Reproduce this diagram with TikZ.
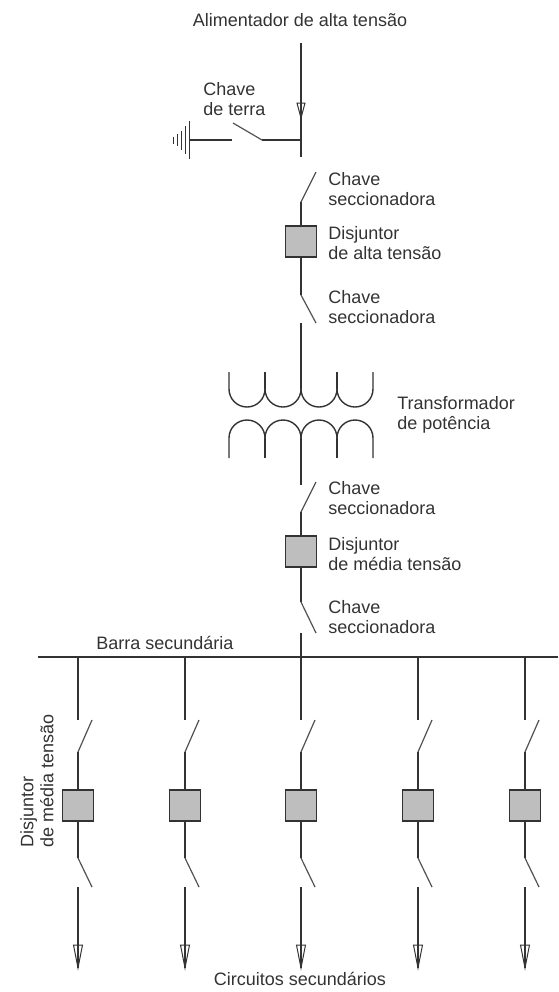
\documentclass[tikz,border=0pt]{standalone}
\usepackage{fontspec}
\setmainfont{Liberation Sans}
\usetikzlibrary{positioning}

\definecolor{ink}{HTML}{333333}
\definecolor{boxgray}{HTML}{BEBEBE}

\tikzset{
  wire/.style={draw=ink,line width=0.7pt},
  bladeline/.style={draw=ink!85,line width=0.6pt},
  breaker/.style={draw=ink,fill=boxgray,line width=0.7pt,minimum size=15.5pt,inner sep=0pt},
  lbl/.style={text=ink,font=\fontsize{9}{10}\selectfont,align=left,inner sep=0pt},
  tipline/.style={draw=ink,line width=0.5pt}
}

\begin{document}
\begin{tikzpicture}[x=0.5pt,y=-0.5pt]
    \useasboundingbox (0,0) rectangle (558,992);
    \begin{scope}[lbl]

    \node (feedlbl) at (300,20) {Alimentador de alta tens\~ao};
    \node [anchor=north west] (earthlbl) at (203,82) {Chave\\de terra};
    \node [anchor=north west] (sw1lbl) at (328,172) {Chave\\seccionadora};
    \node [anchor=north west] (brkATlbl) at (328,226) {Disjuntor\\de alta tens\~ao};
    \node [anchor=north west] (sw2lbl) at (328,290) {Chave\\seccionadora};
    \node [anchor=north west] (trlbl) at (397,396) {Transformador\\de pot\^encia};
    \node [anchor=north west] (sw3lbl) at (328,481) {Chave\\seccionadora};
    \node [anchor=north west] (brkMTlbl) at (328,537) {Disjuntor\\de m\'edia tens\~ao};
    \node [anchor=north west] (sw4lbl) at (328,600) {Chave\\seccionadora};
    \node [anchor=base] (buslbl) at (165,649) {Barra secund\'aria};
    \node [anchor=base] (outlbl) at (300,985) {Circuitos secund\'arios};
    \node [anchor=north west,rotate=90] (feedbrklbl) at (20,848) {Disjuntor\\de m\'edia tens\~ao};

    \end{scope}

    % alimentador e chave de terra
    \coordinate (feed) at (301,43);
    \coordinate (tap) at (301,140);
    \coordinate (mtop) at (301,157);
    \draw [wire] (feed) -- (mtop);
    \draw [tipline] (297,103) -- (305,103) -- (301,118) -- cycle;
    \coordinate (ehinge) at (262,140);
    \coordinate (eblade) at (233,123);
    \coordinate (econtact) at (232,140);
    \coordinate (gnd) at (189,140);
    \draw [wire] (tap) -- (ehinge);
    \draw [bladeline] (ehinge) -- (eblade);
    \draw [wire] (econtact) -- (gnd);
    \foreach \i/\h in {0/19,1/14,2/9.5,3/6,4/3.5}
        \draw [wire,line width=0.5pt] (189-4*\i,140-\h) -- (189-4*\i,140+\h);

    % lado de alta tensao
    \node [breaker] (brkAT) at (301,241.5) {};
    \coordinate (sw1a) at (301,202);
    \coordinate (sw1b) at (316,172);
    \coordinate (sw2a) at (301,295);
    \coordinate (sw2b) at (316,323);
    \coordinate (sw2c) at (301,323);
    \draw [bladeline] (sw1a) -- (sw1b);
    \draw [wire] (sw1a) -- (brkAT.north);
    \draw [wire] (brkAT.south) -- (sw2a);
    \draw [bladeline] (sw2a) -- (sw2b);
    \draw [wire] (sw2c) -- (301,389);

    % transformador
    \draw [wire] (229,372) -- (229,389) arc (180:0:18) arc (180:0:18) arc (180:0:18) arc (180:0:18) -- (373,372);
    \draw [wire] (229,458) -- (229,438) arc (180:360:18) arc (180:360:18) arc (180:360:18) arc (180:360:18) -- (373,458);
    \foreach \x in {265,337} {
        \draw [wire] (\x,372) -- (\x,389);
        \draw [wire] (\x,438) -- (\x,458);
    }

    % lado de media tensao
    \node [breaker] (brkMT) at (301,551.5) {};
    \coordinate (sw3a) at (301,512);
    \coordinate (sw3b) at (316,482);
    \coordinate (sw4a) at (301,602);
    \coordinate (sw4b) at (316,633);
    \coordinate (sw4c) at (301,633);
    \draw [wire] (301,438) -- (301,485);
    \draw [bladeline] (sw3a) -- (sw3b);
    \draw [wire] (sw3a) -- (brkMT.north);
    \draw [wire] (brkMT.south) -- (sw4a);
    \draw [bladeline] (sw4a) -- (sw4b);

    % barra secundaria
    \coordinate (busL) at (38,657);
    \coordinate (busR) at (558,657);
    \draw [wire,line width=1pt] (busL) -- (busR);
    \draw [wire] (sw4c) -- (301,657);

    % circuitos secundarios
    \foreach \x [count=\n] in {78,185,301,418,525} {
        \node [breaker] (brk\n) at (\x,805.5) {};
        \coordinate (top\n) at (\x,657);
        \coordinate (up\n) at (\x,720);
        \coordinate (hinge\n) at (\x,752);
        \coordinate (open\n) at (\x+14,720);
        \coordinate (low\n) at (\x,858);
        \coordinate (free\n) at (\x+14,887);
        \coordinate (cont\n) at (\x,887);
        \coordinate (out\n) at (\x,968);
        \draw [wire] (top\n) -- (up\n);
        \draw [bladeline] (hinge\n) -- (open\n);
        \draw [wire] (hinge\n) -- (brk\n.north);
        \draw [wire] (brk\n.south) -- (low\n);
        \draw [bladeline] (low\n) -- (free\n);
        \draw [wire] (cont\n) -- (out\n);
        \draw [tipline] (\x-4.5,945) -- (\x+4.5,945) -- (out\n) -- cycle;
    }
\end{tikzpicture}
\end{document}
